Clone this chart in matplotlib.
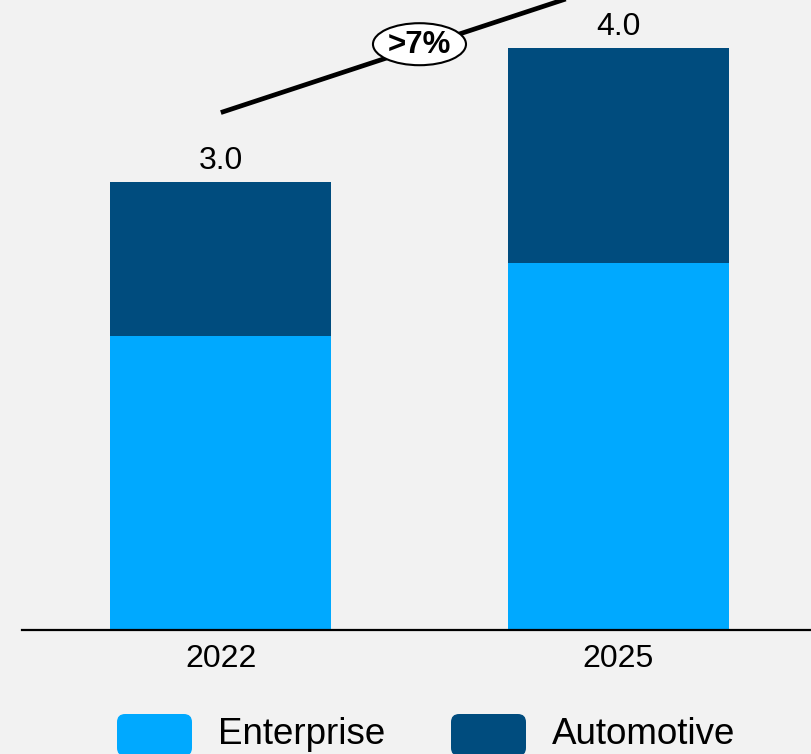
import numpy as np
import matplotlib
matplotlib.use("Agg")
import matplotlib.pyplot as plt
from matplotlib.patches import Ellipse, FancyBboxPatch

plt.rcParams.update({
    "font.family": ["Liberation Sans", "DejaVu Sans"],
    "font.size": 22,
})

# data
years = ["2022", "2025"]
enterprise = [2.0, 2.5]
automotive = [1.05, 1.46]
total_labels = ["3.0", "4.0"]
cagr_label = ">7%"
series_names = ["Enterprise", "Automotive"]

BG = "#F2F2F2"
C_ENT = "#00A9FF"
C_AUTO = "#004C7E"

W, H, DPI = 812, 754, 100
fig = plt.figure(figsize=(W / DPI, H / DPI), dpi=DPI, facecolor=BG)
ax = fig.add_axes([22 / W, (H - 630) / H, 1 - 22 / W, 630 / H])
ax.set_facecolor(BG)

xs = np.arange(len(years))
ax.bar(xs, enterprise, width=0.556, color=C_ENT, lw=0)
ax.bar(xs, automotive, width=0.556, bottom=enterprise, color=C_AUTO, lw=0)

totals = np.array(enterprise) + np.array(automotive)
for x, t, lab in zip(xs, totals, total_labels):
    ax.annotate(lab, (x, t), xytext=(0, 4), textcoords="offset points",
                ha="center", va="bottom", fontsize=23)

ax.set_xlim(-0.5005, 1.488)
ax.set_ylim(0, 630 / 147)
ax.set_xticks(xs)
ax.set_xticklabels(years, fontsize=23)
ax.tick_params(axis="x", length=0, pad=10)
ax.set_yticks([])
for s in ["top", "right", "left"]:
    ax.spines[s].set_visible(False)
ax.spines["bottom"].set_linewidth(1.6)

# growth line with CAGR bubble
y0 = totals[0] + 0.47
y1 = y0 + 0.89
ax.plot([0, 1.0], [y0, y1], color="black", lw=3.4, clip_on=False,
        solid_capstyle="butt", zorder=3)
ex, ey = 0.5, (y0 + y1) / 2 + 0.02
ax.add_patch(Ellipse((ex, ey), 93 / 397.2, 42 / 147, fc="white", ec="black",
                     lw=1.5, clip_on=False, zorder=4))
ax.text(ex, ey - 0.005, cagr_label, ha="center", va="center", fontsize=22.5,
        fontweight="bold", zorder=5)

# legend with rounded swatches
for i, (name, col) in enumerate(zip(series_names, [C_ENT, C_AUTO])):
    px = [117, 451][i]
    sw = FancyBboxPatch((px / W, (H - 756) / H), 75 / W, 42 / H,
                        boxstyle="round,pad=0,rounding_size=0.01",
                        transform=fig.transFigure, fc=col, ec="none",
                        mutation_aspect=W / H)
    fig.patches.append(sw)
    fig.text((px + 101) / W, (H - 735) / H, name, ha="left", va="center",
             fontsize=26.5)

fig.savefig("out.png", dpi=DPI, facecolor=BG)
